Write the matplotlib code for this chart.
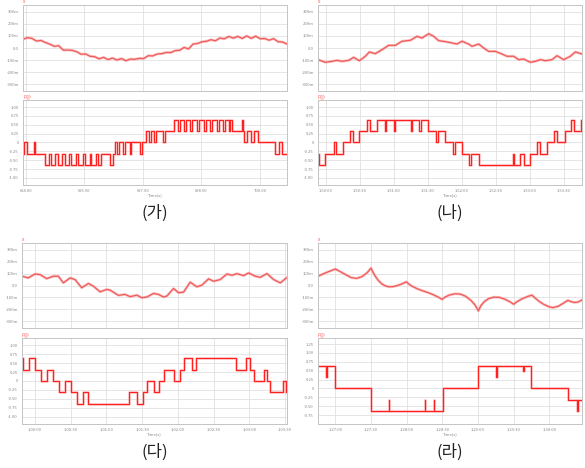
import matplotlib.pyplot as plt
import numpy as np

plt.rcParams['font.family'] = ['Noto Sans CJK KR', 'DejaVu Sans']

# ---- 데이터 (x: 눈금 단위 시간) ----
# (가)
ga_top_x = np.linspace(-0.048, 4.464, 60)
ga_top_y = [72, 86, 80, 58, 63, 46, 32, 14, 19, -18, -17, -20, -31, -52, -50, -69, -72, -90,
            -78, -96, -84, -100, -88, -106, -92, -94, -86, -88, -64, -66, -50, -47, -37, -38,
            -22, -19, 5, -8, 33, 37, 52, 56, 69, 60, 83, 76, 96, 82, 97, 79, 101, 80, 99, 77,
            79, 65, 78, 52, 50, 33]
ga_bot_t = [-0.048, -0.031, 0.026, 0.140, 0.157, 0.333, 0.390, 0.430, 0.493, 0.544, 0.618,
            0.664, 0.732, 0.778, 0.858, 0.892, 0.977, 1.017, 1.091, 1.120, 1.199, 1.234,
            1.291, 1.444, 1.490, 1.519, 1.558, 1.598, 1.661, 1.701, 1.775, 1.798, 1.957,
            1.986, 2.048, 2.105, 2.140, 2.191, 2.225, 2.350, 2.385, 2.538, 2.601, 2.641,
            2.698, 2.738, 2.801, 2.840, 2.926, 2.966, 3.051, 3.085, 3.154, 3.188, 3.268,
            3.302, 3.376, 3.410, 3.467, 3.496, 3.519, 3.695, 3.718, 3.735, 3.781, 3.849,
            3.906, 3.969, 4.265, 4.322, 4.379, 4.464]
ga_bot_v = [-0.32, 0, -0.32, 0, -0.32, -0.64, -0.32, -0.64, -0.32, -0.64, -0.32,
            -0.64, -0.32, -0.64, -0.32, -0.64, -0.32, -0.64, -0.32, -0.64, -0.32, -0.64,
            -0.32, -0.64, -0.32, 0, -0.32, 0, -0.32, 0, -0.32, 0, -0.32,
            0, 0.32, 0, 0.32, 0, 0.32, 0, 0.32, 0.64, 0.32, 0.64,
            0.32, 0.64, 0.32, 0.64, 0.32, 0.64, 0.32, 0.64, 0.32, 0.64, 0.32,
            0.64, 0.32, 0.64, 0.32, 0.64, 0.32, 0.64, 0.32, 0, 0.32, 0,
            0.32, 0, -0.32, 0, -0.32, -0.32]
ga_ticks = ['694.00', '695.50', '697.00', '698.50', '700.00']

# (나)
na_top_x = [-0.235, -0.02, 0.176, 0.324, 0.471, 0.667, 0.814, 0.98, 1.157, 1.275, 1.451,
            1.647, 1.843, 2.039, 2.235, 2.48, 2.676, 2.824, 3.02, 3.167, 3.314, 3.51,
            3.706, 3.853, 4.0, 4.196, 4.294, 4.49, 4.637, 4.784, 4.98, 5.176, 5.324,
            5.52, 5.667, 5.814, 6.01, 6.157, 6.304, 6.451, 6.647, 6.794, 6.99, 7.186,
            7.333, 7.529]
na_top_y = [-97, -119, -111, -103, -111, -103, -78, -106, -69, -33, -47, -14, 22, 22, 56,
            64, 97, 83, 119, 97, 61, 53, 42, 33, 56, 33, 14, 33, 0, -28, -28, -50, -69,
            -69, -97, -92, -119, -111, -97, -106, -97, -64, -97, -69, -33, -50]
na_bot_t = [-0.235, -0.216, -0.02, 0.235, 0.284, 0.5, 0.716, 0.784, 0.98, 1.206, 1.304, 1.5,
            1.745, 1.765, 2.0, 2.02, 2.5, 2.52, 2.725, 2.804, 3.0, 3.235, 3.294, 3.49,
            3.735, 3.784, 4.0, 4.216, 4.265, 4.49, 5.49, 5.53, 5.716, 5.814, 6.01, 6.206,
            6.304, 6.5, 6.696, 6.794, 7.02, 7.216, 7.284, 7.51, 7.529]
na_bot_v = [-0.32, -0.64, -0.32, 0, -0.32, 0, 0.32, 0, 0.32, 0.64, 0.32, 0.64,
            0.32, 0.64, 0.32, 0.64, 0.32, 0.64, 0.32, 0.64, 0.32, 0, 0.32, 0,
            -0.32, 0, -0.32, -0.64, -0.32, -0.64, -0.32, -0.64, -0.32, -0.64, -0.32, 0,
            -0.32, 0, 0.32, 0, 0.32, 0.64, 0.32, 0.64, 0.64]
na_ticks = ['1:50:00', '1:50:30', '1:51:00', '1:51:30', '1:52:00', '1:52:30', '1:53:00', '1:53:30']

# (다)
da_top_x = [-0.364, -0.187, 0, 0.14, 0.327, 0.514, 0.654, 0.794, 0.981, 1.121, 1.308,
            1.495, 1.636, 1.822, 2.009, 2.103, 2.336, 2.523, 2.664, 2.85, 2.991, 3.131,
            3.318, 3.458, 3.598, 3.692, 3.879, 4.019, 4.159, 4.346, 4.533, 4.673, 4.86,
            5.0, 5.187, 5.374, 5.514, 5.654, 5.841, 5.981, 6.168, 6.308, 6.495, 6.682,
            6.869, 7.037]
da_top_y = [78, 64, 97, 92, 58, 78, 78, 22, 64, 50, -19, 17, -6, -53, -33, -39, -83, -75,
            -94, -81, -103, -97, -67, -75, -97, -89, -25, -61, -56, 28, -11, 3, 56, 36,
            50, 97, 86, 100, 83, 106, 78, 69, 100, 50, 22, 64]
da_bot_t = [-0.364, -0.327, -0.159, 0, 0.168, 0.346, 0.514, 0.673, 0.841, 1.009, 1.168,
            1.336, 1.495, 2.645, 2.85, 3.019, 3.15, 3.336, 3.477, 3.626, 3.879, 4.047,
            4.159, 4.393, 4.514, 5.626, 5.916, 6.028, 6.121, 6.402, 6.495, 6.589, 6.944,
            7.019, 7.056]
da_bot_v = [0.64, 0.32, 0.64, 0.32, 0, 0.32, 0, -0.32, 0, -0.32, -0.64,
            -0.32, -0.64, -0.32, -0.64, -0.32, 0, -0.32, 0, 0.32, 0, 0.32,
            0.64, 0.32, 0.64, 0.32, 0.64, 0.32, 0, 0.32, 0, -0.32, 0,
            -0.32, -0.32]
da_ticks = ['1:00:00', '1:00:30', '1:01:00', '1:01:30', '1:02:00', '1:02:30', '1:03:00', '1:03:30']

# (라)
ra_top_x = [-0.486, -0.28, 0, 0.15, 0.3, 0.45, 0.6, 0.75, 0.9, 1.0,
            1.05, 1.12, 1.2, 1.3, 1.4, 1.5, 1.6, 1.7, 1.8, 1.9, 1.99,
            2.05, 2.15, 2.3, 2.45, 2.6, 2.75, 2.9, 2.99,
            3.08, 3.2, 3.35, 3.5, 3.65, 3.8, 3.92, 4.01,
            4.08, 4.18, 4.3, 4.45, 4.6, 4.75, 4.9, 5.0,
            5.1, 5.25, 5.4, 5.51,
            5.6, 5.72, 5.85, 6.0, 6.1, 6.25, 6.4, 6.52,
            6.6, 6.7, 6.8, 6.916]
ra_top_y = [78, 106, 139, 115, 90, 66, 60, 75, 110, 147,
            115, 78, 45, 14, -3, -11, -10, -4, 6, 18, 31,
            15, -6, -28, -45, -60, -78, -100, -117,
            -97, -80, -70, -72, -90, -125, -165, -214,
            -170, -135, -110, -98, -100, -115, -138, -158,
            -135, -110, -92, -81,
            -105, -135, -160, -180, -186, -175, -148, -125,
            -135, -143, -140, -122]
ra_bot_t = [-0.486, -0.262, -0.243, 0, 1.0, 1.495, 1.514, 2.505, 2.523, 2.757, 2.776, 3.009,
            4.009, 4.514, 4.533, 5.262, 5.28, 5.495, 6.523, 6.776, 6.794, 6.916]
ra_bot_v = [0.62, 0.31, 0.62, 0, -0.63, -0.33, -0.63, -0.33, -0.63, -0.33, -0.63, 0,
            0.62, 0.31, 0.62, 0.5, 0.62, 0, -0.33, -0.63, -0.33, -0.33]
ra_ticks = ['1:27:00', '1:27:30', '1:28:00', '1:28:30', '1:29:00', '1:29:30', '1:30:00']

panel_names = ['(가)', '(나)', '(다)', '(라)']

top_yticks = [-300, -200, -100, 0, 100, 200, 300]
top_ylabels = ['-300m', '-200m', '-100m', '0.0', '100m', '200m', '300m']
bot_yticks = [-1.0, -0.75, -0.5, -0.25, 0, 0.25, 0.5, 0.75, 1.0]
bot_ylabels = ['-1.00', '-0.75', '-0.50', '-0.25', '0', '0.25', '0.50', '0.75', '1.00']
ra_yticks = [-0.75, -0.5, -0.25, 0, 0.25, 0.5, 0.75, 1.0, 1.25]
ra_ylabels = ['-0.75', '-0.50', '-0.25', '0', '0.25', '0.50', '0.75', '1.00', '1.25']

W, H = 585, 468
fig = plt.figure(figsize=(W / 100, H / 100), dpi=100)


def box(l, t, r, b):
    return [l / W, 1 - b / H, (r - l) / W, (b - t) / H]


def style(ax, xlim, ntick, ylim, yt, yl, tag):
    ax.set_xlim(*xlim)
    ax.set_ylim(*ylim)
    ax.set_xticks(range(ntick))
    ax.set_yticks(yt)
    ax.set_yticklabels(yl)
    ax.tick_params(length=0, labelsize=3, colors='#888888', pad=3)
    ax.grid(True, color='#e0e0e0', lw=0.6)
    for s in ax.spines.values():
        s.set_color('#c4c4c4')
        s.set_linewidth(0.7)
    ax.text(0, 1.02, tag, transform=ax.transAxes, fontsize=3.5, color='#ff6060')


panels = [
    (ga_top_x, ga_top_y, ga_bot_t, ga_bot_v, ga_ticks, (-0.048, 4.464), 23, 287, 5, 91, 100, 185),
    (na_top_x, na_top_y, na_bot_t, na_bot_v, na_ticks, (-0.235, 7.529), 318, 582, 5, 91, 100, 185),
    (da_top_x, da_top_y, da_bot_t, da_bot_v, da_ticks, (-0.364, 7.056), 22, 287, 243, 328, 338, 424),
    (ra_top_x, ra_top_y, ra_bot_t, ra_bot_v, ra_ticks, (-0.486, 6.916), 318, 582, 243, 328, 338, 424),
]

for i, (tx, ty, bt, bv, xt, xl, l, r, t1, b1, t2, b2) in enumerate(panels):
    ax1 = fig.add_axes(box(l, t1, r, b1))
    ax1.plot(tx, ty, color='#f9a0a0', lw=2.0, alpha=0.6)
    ax1.plot(tx, ty, color='#f05a5a', lw=0.9)
    style(ax1, xl, len(xt), (-358, 358), top_yticks, top_ylabels, 'x')
    ax1.set_xticklabels([])

    ax2 = fig.add_axes(box(l, t2, r, b2))
    ax2.step(bt, bv, where='post', color='#ff9090', lw=2.0, alpha=0.5)
    ax2.step(bt, bv, where='post', color='#ff2020', lw=0.8)
    if i == 3:
        style(ax2, xl, len(xt), (-1.0, 1.42), ra_yticks, ra_ylabels, 'P@')
    else:
        style(ax2, xl, len(xt), (-1.2, 1.2), bot_yticks, bot_ylabels, 'P@')
    ax2.set_xticklabels(xt)
    ax2.set_xlabel('Time(s)', fontsize=3, color='#888888', labelpad=0)

    fig.text((l + r) / 2 / W, 1 - (b2 + 28) / H, panel_names[i], ha='center', va='center',
             fontsize=12, color='#222222')

fig.savefig('out.png', dpi=100)
